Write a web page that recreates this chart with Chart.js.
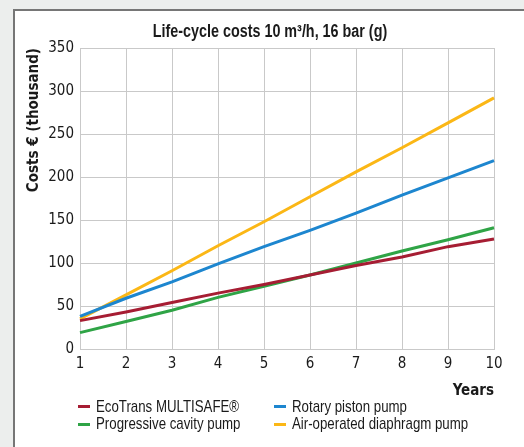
<!DOCTYPE html>
<html>
<head>
<meta charset="utf-8">
<script src="https://cdn.jsdelivr.net/npm/chart.js@4/dist/chart.umd.min.js"></script>
<style>
    body {
        margin: 0;
        background: #eceeed;
    }
    #panel {
        position: absolute;
        left: 13px;
        top: 9px;
        width: 511px;
        height: 438px;
        background: #fff;
        border-left: 2px solid #767676;
        border-top: 2px solid #767676;
        font-family: 'Liberation Sans', Arial, sans-serif;
        color: #1a1a1a;
    }
    #chartLine {
        position: absolute;
        left: 0;
        top: 0;
    }
    /* narrow look: Liberation Sans squeezed like a narrow cut */
    .narrow {
        display: inline-block;
        white-space: nowrap;
        transform: scaleX(0.82);
    }
    #title {
        position: absolute;
        left: 0;
        width: 509px;
        top: 10px;
        text-align: center;
        font-size: 17.5px;
        font-weight: bold;
        line-height: 20px;
    }
    #title .narrow { transform-origin: center; }
    #legend {
        position: absolute;
        left: 63px;
        top: 387px;
        display: grid;
        grid-template-columns: 196px 240px;
        font-size: 17px;
    }
    .item {
        display: flex;
        align-items: center;
        height: 17.5px;
        white-space: nowrap;
    }
    .item .narrow {
        transform-origin: left center;
        transform: scaleX(0.78);
    }
    .mark {
        display: inline-block;
        width: 12px;
        height: 3px;
        margin-right: 6px;
        flex: none;
    }
</style>
</head>
<body>
<div id="panel">
    <canvas id="chartLine" width="509" height="394"></canvas>
    <div id="title"><span class="narrow">Life-cycle costs 10 m³/h, 16 bar (g)</span></div>
    <div id="legend"></div>
</div>
<script>

const years = ['1', '2', '3', '4', '5', '6', '7', '8', '9', '10'];
const yTicks = [0, 50, 100, 150, 200, 250, 300, 350];

// costs in thousand euro at each year
const ecoTrans = [33, 43, 54, 65, 75, 86, 97, 107, 119, 128];
const rotaryPiston = [38, 59, 78, 99, 119, 138, 158, 179, 199, 219];
const progressiveCavity = [19, 32, 45, 60, 73, 86, 100, 114, 127, 141];
const airDiaphragm = [35, 63, 91, 120, 148, 177, 206, 234, 263, 292];

const seriesNames = [
    'EcoTrans MULTISAFE®',
    'Rotary piston pump',
    'Progressive cavity pump',
    'Air-operated diaphragm pump',
];
const seriesValues = [ecoTrans, rotaryPiston, progressiveCavity, airDiaphragm];
const seriesColors = ['#a61d33', '#1d86cf', '#2fa446', '#fbb716'];

Chart.defaults.font.family = "'DejaVu Sans Condensed', 'Liberation Sans', sans-serif";
Chart.defaults.font.size = 15;
Chart.defaults.color = '#1a1a1a';

const data = {
    labels: years,
    datasets: seriesNames.map((name, i) => ({
        label: name,
        data: seriesValues[i],
        borderColor: seriesColors[i],
        backgroundColor: seriesColors[i],
        borderWidth: 3,
        pointRadius: 0,
        tension: 0,
    }))
};

const gridColor = '#c9c9c9';

const config = {
    type: 'line',
    data,
    options: {
        responsive: false,
        animation: false,
        devicePixelRatio: 1,
        layout: { padding: { left: 0, right: 30, top: 37, bottom: 0 } },
        plugins: {
            legend: { display: false },
            tooltip: { enabled: false },
        },
        scales: {
            x: {
                offset: false,
                grid: { color: gridColor, drawTicks: false, offset: false },
                border: { color: gridColor },
                ticks: { padding: 6, maxRotation: 0, autoSkip: false },
                title: {
                    display: true,
                    text: 'Years',
                    align: 'end',
                    font: { size: 15, weight: 'bold', lineHeight: 1.2 },
                    padding: { top: 0, bottom: 5 },
                },
                afterFit: scale => { scale.height = 56; },
            },
            y: {
                min: 0,
                max: 350,
                grid: { color: gridColor, drawTicks: false },
                border: { color: gridColor },
                ticks: { stepSize: 50, padding: 6 },
                afterBuildTicks: scale => { scale.ticks = yTicks.map(v => ({ value: v })); },
                title: {
                    display: true,
                    text: 'Costs € (thousand)',
                    align: 'end',
                    font: { size: 15, weight: 'bold', lineHeight: 1.2 },
                    padding: { top: 10, bottom: 0 },
                },
                afterFit: scale => { scale.width = 65; },
            },
        },
    },
};

var chartLine = new Chart(document.getElementById('chartLine'), config);

// legend in two columns, built from the same series
const legend = document.getElementById('legend');
seriesNames.forEach((name, i) => {
    const item = document.createElement('div');
    item.className = 'item';
    const mark = document.createElement('span');
    mark.className = 'mark';
    mark.style.background = seriesColors[i];
    const text = document.createElement('span');
    text.className = 'narrow';
    text.textContent = name;
    item.appendChild(mark);
    item.appendChild(text);
    legend.appendChild(item);
});

</script>
</body>
</html>
